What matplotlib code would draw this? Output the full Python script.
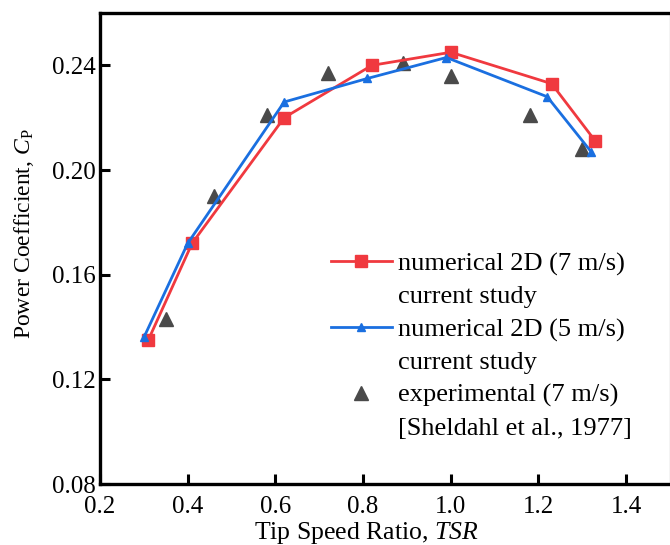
import matplotlib
matplotlib.use('Agg')
import matplotlib.pyplot as plt
from matplotlib.lines import Line2D

# Data
tsr_7 = [0.31, 0.41, 0.62, 0.82, 1.00, 1.23, 1.33]
cp_7 = [0.135, 0.172, 0.220, 0.240, 0.245, 0.233, 0.211]

tsr_5 = [0.30, 0.40, 0.62, 0.81, 0.99, 1.22, 1.32]
cp_5 = [0.136, 0.172, 0.226, 0.235, 0.243, 0.228, 0.207]

tsr_exp = [0.35, 0.46, 0.58, 0.72, 0.89, 1.00, 1.18, 1.30]
cp_exp = [0.143, 0.190, 0.221, 0.237, 0.241, 0.236, 0.221, 0.208]

x_ticks = [0.2, 0.4, 0.6, 0.8, 1.0, 1.2, 1.4]
y_ticks = [0.08, 0.12, 0.16, 0.20, 0.24]

legend_labels = ['numerical 2D (7 m/s)', 'current study',
                 'numerical 2D (5 m/s)', 'current study',
                 'experimental (7 m/s)', '[Sheldahl et al., 1977]']

# Times-like look
plt.rcParams['font.family'] = 'Liberation Serif'
plt.rcParams['mathtext.fontset'] = 'custom'
plt.rcParams['mathtext.rm'] = 'Liberation Serif'
plt.rcParams['mathtext.it'] = 'Liberation Serif:italic'
plt.rcParams['font.size'] = 18

red = '#f0393f'
blue = '#1a6fe0'
gray = '#4a4a4a'

fig = plt.figure(figsize=(6.7, 5.45), dpi=100)
ax = fig.add_axes([0.1493, 0.1119, 0.8507, 0.8642])

# Numerical curves and experimental points
ax.plot(tsr_7, cp_7, color=red, marker='s', markersize=8, linewidth=2, zorder=3)
ax.plot(tsr_5, cp_5, color=blue, marker='^', markersize=6, linewidth=2, zorder=4)
ax.plot(tsr_exp, cp_exp, linestyle='none', color=gray, marker='^', markersize=10, zorder=2)

ax.set_xlim(0.2, 1.5)
ax.set_ylim(0.08, 0.26)
ax.set_xticks(x_ticks)
ax.set_xticklabels(['%.1f' % v for v in x_ticks])
ax.set_yticks(y_ticks)
ax.set_yticklabels(['%.2f' % v for v in y_ticks])
ax.tick_params(direction='in', length=7, width=2.2, labelsize=18)
ax.tick_params(axis='x', pad=8.5)
ax.tick_params(axis='y', pad=3)

for side in ['left', 'bottom', 'top']:
    ax.spines[side].set_linewidth(2.4)
ax.spines['right'].set_color('#c8c8c8')
ax.spines['right'].set_linewidth(1)

ax.set_xlabel(r'Tip Speed Ratio, $\mathit{TSR}$', fontsize=18.5)
ax.set_ylabel(r'Power Coefficient, $\mathit{C}_\mathrm{P}$', fontsize=17)
ax.xaxis.set_label_coords(0.467, -0.077)
ax.yaxis.set_label_coords(-0.112, 0.531)

# Legend: handle sits on the first line of each two-line label
blank = Line2D([], [], linestyle='none')
handles = [
    Line2D([], [], color=red, marker='s', markersize=8, linewidth=2),
    blank,
    Line2D([], [], color=blue, marker='^', markersize=6, linewidth=2),
    blank,
    Line2D([], [], color=gray, marker='^', markersize=10, linestyle='none'),
    blank,
]
ax.legend(handles, legend_labels, loc='upper left', bbox_to_anchor=(0.405, 0.493),
          frameon=False, fontsize=19, borderpad=0, borderaxespad=0,
          handlelength=2.3, handletextpad=0.23, labelspacing=0.35)

fig.savefig('out.png', dpi=100)
